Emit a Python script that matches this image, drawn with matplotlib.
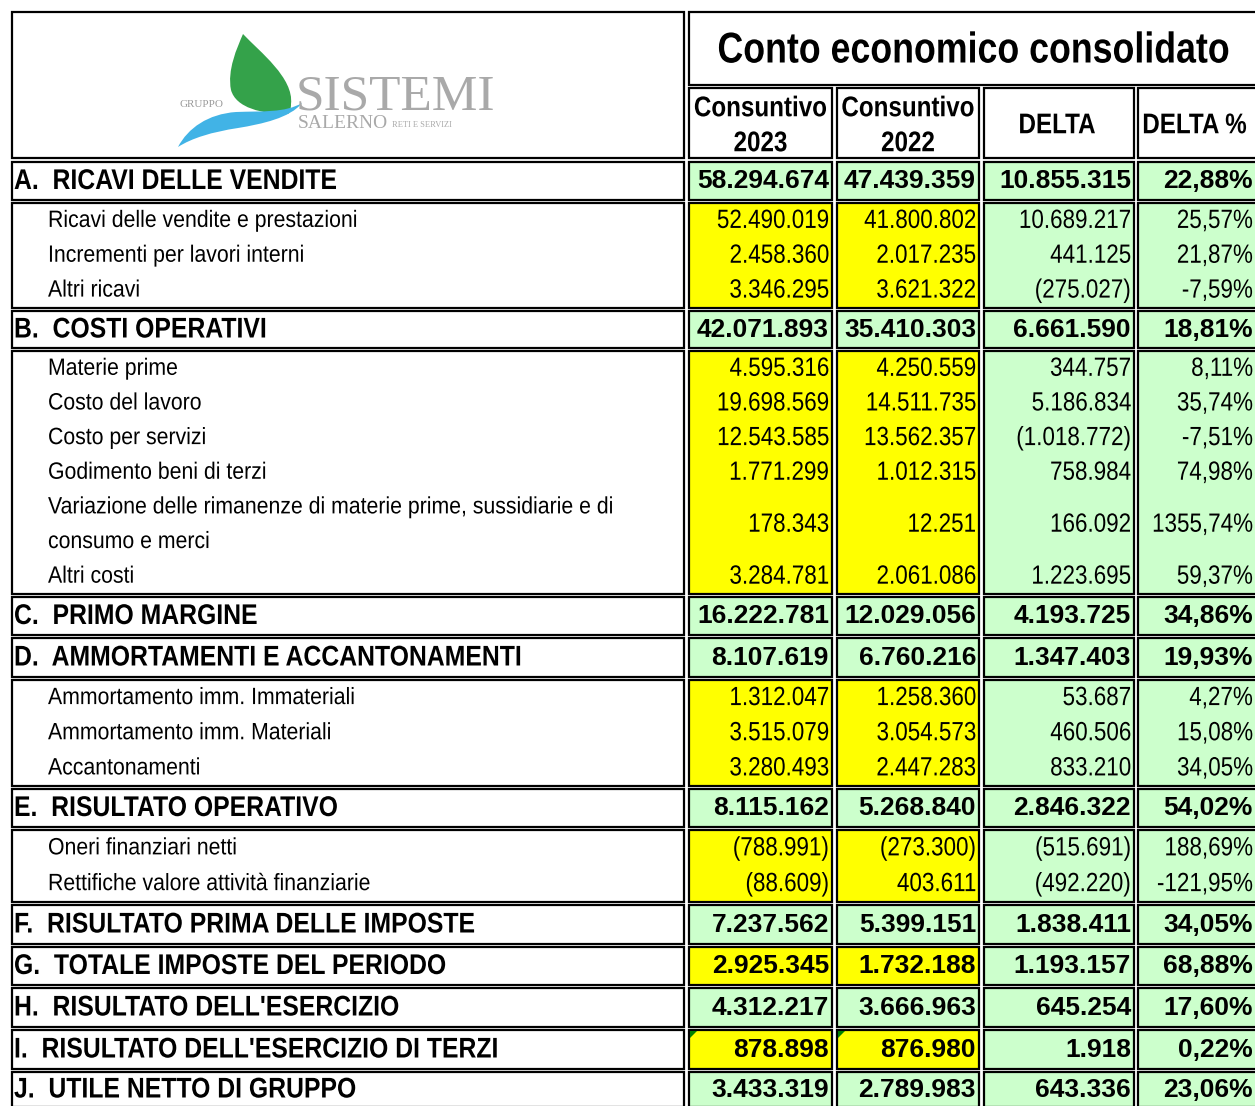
import matplotlib
matplotlib.use("Agg")
import matplotlib.pyplot as plt
from matplotlib.patches import Rectangle, PathPatch, Polygon
from matplotlib.path import Path
from matplotlib.patheffects import AbstractPathEffect
from matplotlib.transforms import Affine2D

# --- dati del conto economico (euro) ---
titolo = "Conto economico consolidato"
intestazioni = ["Consuntivo\n2023", "Consuntivo\n2022", "DELTA", "DELTA %"]

voci = [
    "A.  RICAVI DELLE VENDITE",
    "Ricavi delle vendite e prestazioni",
    "Incrementi per lavori interni",
    "Altri ricavi",
    "B.  COSTI OPERATIVI",
    "Materie prime",
    "Costo del lavoro",
    "Costo per servizi",
    "Godimento beni di terzi",
    "Variazione delle rimanenze di materie prime, sussidiarie e di\nconsumo e merci",
    "Altri costi",
    "C.  PRIMO MARGINE",
    "D.  AMMORTAMENTI E ACCANTONAMENTI",
    "Ammortamento imm. Immateriali",
    "Ammortamento imm. Materiali",
    "Accantonamenti",
    "E.  RISULTATO OPERATIVO",
    "Oneri finanziari netti",
    "Rettifiche valore attività finanziarie",
    "F.  RISULTATO PRIMA DELLE IMPOSTE",
    "G.  TOTALE IMPOSTE DEL PERIODO",
    "H.  RISULTATO DELL'ESERCIZIO",
    "I.  RISULTATO DELL'ESERCIZIO DI TERZI",
    "J.  UTILE NETTO DI GRUPPO",
]
livello = [0, 1, 1, 1, 0, 1, 1, 1, 1, 1, 1, 0, 0, 1, 1, 1, 0, 1, 1, 0, 0, 0, 0, 0]

cons_2023 = [58294674, 52490019, 2458360, 3346295, 42071893, 4595316, 19698569,
             12543585, 1771299, 178343, 3284781, 16222781, 8107619, 1312047,
             3515079, 3280493, 8115162, -788991, -88609, 7237562, 2925345,
             4312217, 878898, 3433319]
cons_2022 = [47439359, 41800802, 2017235, 3621322, 35410303, 4250559, 14511735,
             13562357, 1012315, 12251, 2061086, 12029056, 6760216, 1258360,
             3054573, 2447283, 5268840, -273300, 403611, 5399151, 1732188,
             3666963, 876980, 2789983]
delta = [10855315, 10689217, 441125, -275027, 6661590, 344757, 5186834,
         -1018772, 758984, 166092, 1223695, 4193725, 1347403, 53687, 460506,
         833210, 2846322, -515691, -492220, 1838411, 1193157, 645254, 1918,
         643336]
delta_pct = [22.88, 25.57, 21.87, -7.59, 18.81, 8.11, 35.74, -7.51, 74.98,
             1355.74, 59.37, 34.86, 19.93, 4.27, 15.08, 34.05, 54.02, 188.69,
             -121.95, 34.05, 68.88, 17.60, 0.22, 23.06]

# righe totali con consuntivi evidenziati in giallo
totali_gialli = [20, 22]

# --- layout (pixel) ---
W, H = 1255, 1106
X_VOCI = (12, 684)
X_COL = [(689, 832), (837, 979), (984, 1134), (1138, 1262)]
Y_TITOLO = (12, 85)
Y_INTEST = (88, 158)
blocchi_top = [162, 203, 311, 351, 597, 638, 680, 789, 830, 905, 947, 988,
               1030, 1072, 1110]
GAP = 3.5
DY = -2  # testo leggermente sopra il centro della cella

VERDE = "#CCFFCC"
GIALLO = "#FFFF00"
SANS = "Liberation Sans"
SERIF = "Liberation Serif"


class Stretto(AbstractPathEffect):
    """Comprime il testo in orizzontale attorno a x0 (tipo Arial Narrow)."""

    def __init__(self, sx, x0):
        super().__init__()
        self.sx, self.x0 = sx, x0

    def draw_path(self, renderer, gc, tpath, affine, rgbFace=None):
        t = affine + Affine2D().translate(-self.x0, 0).scale(self.sx, 1).translate(self.x0, 0)
        renderer.draw_path(gc, tpath, t, rgbFace)


def fmt_num(v):
    s = f"{abs(v):,}".replace(",", ".")
    return f"({s})" if v < 0 else s


def fmt_pct(p):
    return f"{p:.2f}".replace(".", ",") + "%"


def px(pt):
    return pt * 100 / 72


def scrivi(ax, x, yc, s, size, weight="normal", ha="left", sx=1.0,
           family=SANS, color="black"):
    # yc = centro visivo delle maiuscole; x in dati == x in pixel
    eff = [Stretto(sx, x)] if sx != 1.0 else []
    ax.text(x, yc + 0.36 * px(size), s, fontsize=size, family=family,
            fontweight=weight, ha=ha, va="baseline", color=color,
            path_effects=eff)


def cella(ax, x0, x1, y0, y1, fc):
    ax.add_patch(Rectangle((x0, y0), x1 - x0, y1 - y0, facecolor=fc,
                           edgecolor="black", linewidth=1.6))


fig = plt.figure(figsize=(W / 100, H / 100), dpi=100)
ax = fig.add_axes([0, 0, 1, 1])
ax.set_xlim(0, W)
ax.set_ylim(H, 0)
ax.axis("off")

# intestazione: logo + titolo
cella(ax, X_VOCI[0], X_VOCI[1], Y_TITOLO[0], Y_INTEST[1], "white")
cella(ax, X_COL[0][0], X_COL[3][1], Y_TITOLO[0], Y_TITOLO[1], "white")
scrivi(ax, 1228, 47, titolo, 31, "bold", ha="right", sx=0.83)
for (x0, x1), testo in zip(X_COL, intestazioni):
    cella(ax, x0, x1, Y_INTEST[0], Y_INTEST[1], "white")
    xc = (x0 + min(x1, W)) / 2
    righe = testo.split("\n")
    if len(righe) == 2:
        scrivi(ax, xc, 106, righe[0], 20.5, "bold", ha="center", sx=0.85)
        scrivi(ax, xc, 141, righe[1], 20.5, "bold", ha="center", sx=0.85)
    else:
        scrivi(ax, xc - 2, 123, testo, 20.5, "bold", ha="center", sx=0.85)

# logo Sistemi Salerno
foglia = Path([(243, 34), (260, 52), (294, 78), (291, 104),
               (291, 109), (290, 112), (288, 114),
               (262, 114), (236, 108), (231, 90),
               (227, 70), (237, 48), (243, 34)],
              [Path.MOVETO] + [Path.CURVE4] * 12)
ax.add_patch(PathPatch(foglia, facecolor="#34A24A", edgecolor="none"))
onda = Path([(178, 147), (188, 128), (208, 114), (236, 112),
             (262, 111), (285, 113), (302, 103),
             (290, 118), (262, 124), (238, 128),
             (212, 132), (192, 138), (178, 147)],
            [Path.MOVETO] + [Path.CURVE4] * 12)
ax.add_patch(PathPatch(onda, facecolor="#41B3E6", edgecolor="none"))
ax.text(180, 107, "GRUPPO", fontsize=8, family=SERIF, color="#9A9A9A")
ax.text(296, 109, "SISTEMI", fontsize=37, family=SERIF, color="#A9A9A9")
ax.text(298, 128, "SALERNO", fontsize=14, family=SERIF, color="#A9A9A9")
ax.text(392, 127, "RETI E SERVIZI", fontsize=6, family=SERIF, color="#A9A9A9")

# blocchi di righe
blocchi = []
for i, lv in enumerate(livello):
    if lv == 1 and blocchi and livello[blocchi[-1][0]] == 1:
        blocchi[-1].append(i)
    else:
        blocchi.append([i])

valori = [cons_2023, cons_2022, delta]
for b, righe in enumerate(blocchi):
    y0 = blocchi_top[b]
    y1 = blocchi_top[b + 1] - GAP
    dettaglio = livello[righe[0]] == 1
    cella(ax, X_VOCI[0], X_VOCI[1], y0, y1, "white")
    for c, (x0, x1) in enumerate(X_COL):
        giallo = c < 2 and (dettaglio or righe[0] in totali_gialli)
        cella(ax, x0, x1, y0, y1, GIALLO if giallo else VERDE)
        if righe[0] == 22 and c < 2:
            ax.add_patch(Polygon([(x0 + 1, y0 + 1), (x0 + 8, y0 + 1), (x0 + 1, y0 + 8)],
                                 facecolor="#008000", edgecolor="none"))

    if not dettaglio:
        i = righe[0]
        yc = (y0 + y1) / 2 + DY
        scrivi(ax, 14, yc, voci[i], 20.5, "bold", sx=0.87)
        for c in range(3):
            scrivi(ax, X_COL[c][1] - 3, yc, fmt_num(valori[c][i]), 19, "bold", ha="right")
        scrivi(ax, W - 2, yc, fmt_pct(delta_pct[i]), 19, "bold", ha="right")
    else:
        n_tot = sum(voci[i].count("\n") + 1 for i in righe)
        h = (y1 - y0) / n_tot
        k = 0
        for i in righe:
            linee = voci[i].split("\n")
            for j, linea in enumerate(linee):
                scrivi(ax, 48, y0 + h * (k + j + 0.5) + DY, linea, 17, sx=0.9)
            yc = y0 + h * (k + len(linee) / 2) + DY
            for c in range(3):
                scrivi(ax, X_COL[c][1] - 3, yc, fmt_num(valori[c][i]), 19, ha="right", sx=0.85)
            scrivi(ax, W - 2, yc, fmt_pct(delta_pct[i]), 19, ha="right", sx=0.85)
            k += len(linee)

fig.savefig("out.png", dpi=100)
